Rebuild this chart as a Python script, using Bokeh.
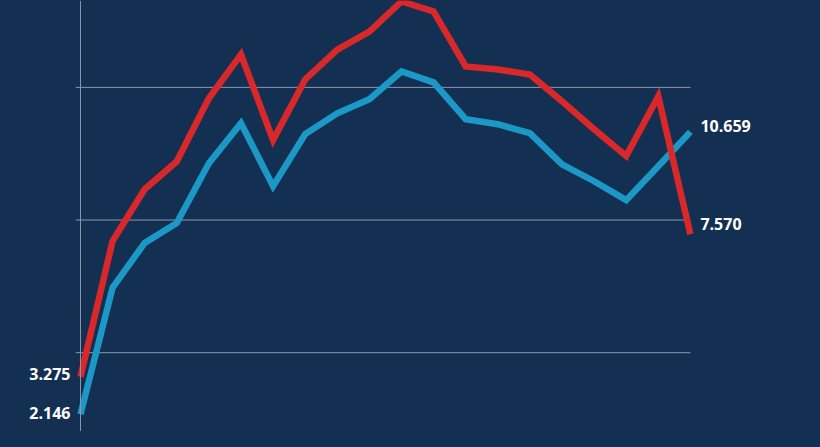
from bokeh.core.properties import value
from bokeh.embed import file_html
from bokeh.models import ColumnDataSource, GlobalInlineStyleSheet, Range1d, Span
from bokeh.plotting import figure
from bokeh.resources import INLINE

# Data (20 periods)
periods = list(range(20))
red_values = [3.275, 7.37, 8.93, 9.77, 11.67, 12.99, 10.41, 12.24, 13.14, 13.68,
              14.59, 14.29, 12.63, 12.54, 12.39, 11.58, 10.74, 9.93, 11.73, 7.570]
blue_values = [2.146, 5.96, 7.31, 7.91, 9.71, 10.92, 9.02, 10.59, 11.22, 11.64,
               12.48, 12.15, 11.04, 10.89, 10.62, 9.68, 9.17, 8.60, 9.62, 10.659]
grid_values = [4, 8, 12]

BG = "#132f52"
RED = "#d8282a"
BLUE = "#1b98c6"
GRID = "#8b98ac"

p = figure(
    width=804,
    height=431,
    x_range=Range1d(-2.492, 22.555),
    y_range=Range1d(1.624, 14.62),
    toolbar_location=None,
    output_backend="svg",
    min_border=0,
)
p.background_fill_color = BG
p.border_fill_color = BG
p.outline_line_color = None
p.axis.visible = False
p.grid.visible = False
p.stylesheets = [GlobalInlineStyleSheet(css="html, body { background: %s; }" % BG)]

# horizontal grid lines, only across the data span
p.segment(x0=[-0.15] * len(grid_values), x1=[periods[-1]] * len(grid_values),
          y0=grid_values, y1=grid_values, line_color=GRID, line_width=1)
p.add_layout(Span(location=periods[0], dimension="height", line_color=GRID, line_width=1))

src = ColumnDataSource(dict(x=periods, red=red_values, blue=blue_values))
p.line("x", "blue", source=src, line_color=BLUE, line_width=6.5, line_join="miter")
p.line("x", "red", source=src, line_color=RED, line_width=6.5, line_join="miter")

font = value("Open Sans")


def label(i, series, align, dx, dy):
    v = series[i]
    p.text(x=[periods[i]], y=[v], text=["%.3f" % v], text_font=font,
           text_font_style="bold", text_font_size="16px", text_color="white",
           text_align=align, text_baseline="middle", x_offset=dx, y_offset=dy)


label(0, red_values, "right", -10, -3)
label(0, blue_values, "right", -10, -1)
label(-1, blue_values, "left", 10, -6)
label(-1, red_values, "left", 10, -10)

open("out.html", "w").write(file_html(p, INLINE))
